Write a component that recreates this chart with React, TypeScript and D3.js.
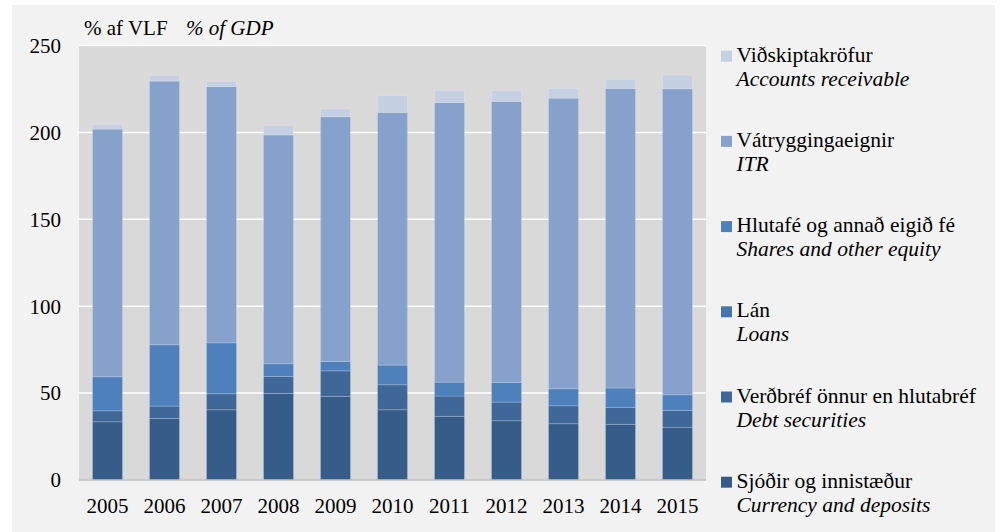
import React from "react";
import * as d3 from "d3";

const years = ["2005","2006","2007","2008","2009","2010","2011","2012","2013","2014","2015"];
const currency = [33.5, 35.4, 40.4, 49.8, 48.1, 40.4, 36.6, 34.1, 32.4, 32.0, 30.3];
const debtSecurities = [6.3, 7.1, 9.2, 9.8, 14.7, 14.4, 11.7, 10.7, 10.3, 9.8, 9.7];
const loans = [0, 0, 0, 0, 0, 0, 0, 0, 0, 0, 0];
const shares = [19.6, 35.3, 29.3, 7.3, 5.4, 11.3, 8.0, 11.3, 9.8, 11.1, 9.0];
const itr = [142.5, 151.7, 147.5, 131.6, 140.8, 145.4, 160.9, 161.7, 167.2, 172.4, 176.1];
const receivables = [2.7, 3.3, 3.1, 5.5, 4.6, 9.6, 6.9, 6.3, 5.6, 5.2, 7.8];
const yTicks = [0, 50, 100, 150, 200, 250];

const seriesKeys = ["currency", "debt", "loans", "shares", "itr", "ar"];
const seriesColors = ["#365c89", "#3f6899", "#4675ad", "#4e80bc", "#86a1cb", "#c5d0e3"];
const legendIs = ["Sjóðir og innistæður", "Verðbréf önnur en hlutabréf", "Lán", "Hlutafé og annað eigið fé", "Vátryggingaeignir", "Viðskiptakröfur"];
const legendEn = ["Currency and deposits", "Debt securities", "Loans", "Shares and other equity", "ITR", "Accounts receivable"];

const seriesValues = [currency, debtSecurities, loans, shares, itr, receivables];

export default function App() {
  const W = 1000, H = 532;
  const left = 79, right = 706, top = 45.5, bottom = 480;
  const font = "Liberation Serif, Times New Roman, Times, DejaVu Serif, serif";

  const table = years.map((y, i) => {
    const row: any = { year: y };
    seriesKeys.forEach((k, j) => (row[k] = seriesValues[j][i]));
    return row;
  });
  const stacked = d3.stack().keys(seriesKeys)(table);

  const x = d3.scaleBand().domain(years).range([left, right]).paddingInner(27 / 57).paddingOuter(27 / 114);
  const y = d3.scaleLinear().domain([0, 250]).range([bottom, top]);

  const legendX = 721;
  const legendTop = 61.7;
  const legendStep = 85.2;

  return (
    <svg width={W} height={H} style={{ position: "absolute", left: 0, top: 0, fontFamily: font }}>
      <rect x={0} y={0} width={W} height={H} fill="#ffffff" />
      <rect x={12} y={5} width={983} height={H - 5} fill="#f2f2f2" />
      <rect x={left} y={top} width={right - left} height={bottom - top} fill="#d9d9d9" />
      {yTicks.filter(t => t > 0).map(t => (
        <line key={t} x1={left} x2={right} y1={y(t)} y2={y(t)} stroke="#ffffff" strokeWidth={1.5} />
      ))}
      {stacked.map((s, si) => (
        <g key={seriesKeys[si]} fill={seriesColors[si]}>
          {s.map((d, i) => {
            const h = y(d[0]) - y(d[1]);
            if (h <= 0) return null;
            return (
              <rect key={i} x={x(years[i])} y={y(d[1])} width={x.bandwidth()} height={h}
                stroke="#ffffff" strokeOpacity={0.18} strokeWidth={1} />
            );
          })}
        </g>
      ))}
      <line x1={left} x2={right} y1={bottom} y2={bottom} stroke="#bfbfbf" strokeWidth={1.5} />
      {yTicks.map(t => (
        <text key={t} x={61} y={y(t)} dy="0.35em" textAnchor="end" fontSize={21} fill="#000" style={{ fontFamily: font }}>{t}</text>
      ))}
      {years.map(yr => (
        <text key={yr} x={(x(yr) as number) + x.bandwidth() / 2} y={513} textAnchor="middle" fontSize={21} fill="#000" style={{ fontFamily: font }}>{yr}</text>
      ))}
      <text x={84} y={35} fontSize={21} fill="#000" style={{ fontFamily: font }}>% af VLF</text>
      <text x={186} y={35} fontSize={21} fontStyle="italic" fill="#000" style={{ fontFamily: font }}>% of GDP</text>
      {legendIs.map((_, k) => {
        const si = seriesKeys.length - 1 - k;
        const by = legendTop + k * legendStep;
        return (
          <g key={k}>
            <rect x={legendX} y={by - 11} width={11} height={11} fill={seriesColors[si]} />
            <text x={736.5} y={by} fontSize={21.5} fill="#000" style={{ fontFamily: font }}>{legendIs[si]}</text>
            <text x={736.5} y={by + 24} fontSize={21.5} fontStyle="italic" fill="#000" style={{ fontFamily: font }}>{legendEn[si]}</text>
          </g>
        );
      })}
    </svg>
  );
}
